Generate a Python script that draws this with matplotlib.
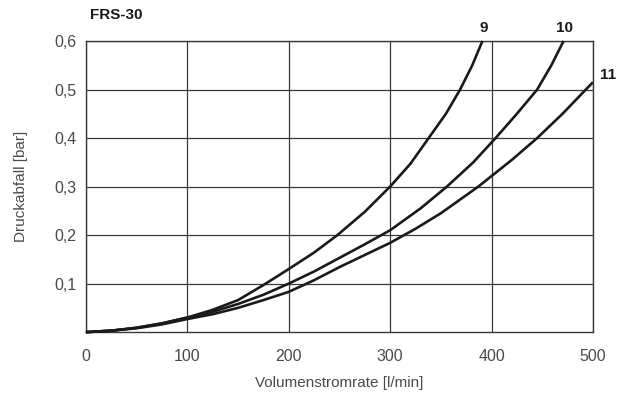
import matplotlib
matplotlib.use("Agg")
import matplotlib.pyplot as plt

plt.rcParams['font.family'] = ['Liberation Sans', 'DejaVu Sans']

# flow rate [l/min] vs pressure drop [bar] for the three filter sizes
flow_9 = [0, 25, 50, 75, 100, 125, 150, 175, 200, 225, 248, 275, 300, 320, 338, 355, 369, 381, 391]
drop_9 = [0, 0.003, 0.009, 0.018, 0.03, 0.046, 0.066, 0.097, 0.13, 0.164, 0.2, 0.248, 0.3, 0.347, 0.4, 0.45, 0.5, 0.55, 0.6]

flow_10 = [0, 25, 50, 75, 100, 125, 150, 175, 200, 225, 250, 275, 300, 330, 356, 382, 404, 425, 445, 459, 471]
drop_10 = [0, 0.003, 0.009, 0.018, 0.03, 0.042, 0.058, 0.077, 0.1, 0.125, 0.153, 0.181, 0.21, 0.255, 0.3, 0.35, 0.4, 0.45, 0.5, 0.55, 0.6]

flow_11 = [0, 25, 50, 75, 100, 125, 150, 175, 200, 225, 250, 275, 300, 325, 350, 387, 420, 445, 470, 493, 500]
drop_11 = [0, 0.003, 0.008, 0.016, 0.027, 0.037, 0.05, 0.066, 0.083, 0.107, 0.134, 0.159, 0.184, 0.213, 0.245, 0.3, 0.355, 0.4, 0.45, 0.5, 0.515]

curve_names = ['9', '10', '11']
x_ticks = [0, 100, 200, 300, 400, 500]
y_ticks = [0.1, 0.2, 0.3, 0.4, 0.5, 0.6]
y_tick_labels = ['0,1', '0,2', '0,3', '0,4', '0,5', '0,6']

txt = '#4a4a4a'
fig = plt.figure(figsize=(6.18, 3.94), dpi=100)
ax = fig.add_axes([0.139, 0.157, 0.8205, 0.739])

for fx, dy in [(flow_9, drop_9), (flow_10, drop_10), (flow_11, drop_11)]:
    ax.plot(fx, dy, color='#1a1a1a', lw=1.9, solid_capstyle='butt', solid_joinstyle='round',
            clip_on=False, zorder=3)

ax.set_xlim(0, 500)
ax.set_ylim(0, 0.6)
ax.set_xticks(x_ticks)
ax.set_yticks(y_ticks)
ax.set_yticklabels(y_tick_labels)
ax.tick_params(length=0, labelsize=11.5, colors=txt)
ax.tick_params(axis='x', pad=12)
ax.tick_params(axis='y', pad=7)
ax.grid(True, color='#3a3a3a', lw=0.9)
for s in ax.spines.values():
    s.set_color('#3a3a3a')
    s.set_linewidth(1.0)

ax.set_xlabel('Volumenstromrate [l/min]', fontsize=11, color=txt, labelpad=9)
ax.set_ylabel('Druckabfall [bar]', fontsize=11, color=txt, labelpad=19)

# curve labels at the ends of the lines
ends = [(flow_9[-1], drop_9[-1]), (flow_10[-1], drop_10[-1]), (flow_11[-1], drop_11[-1])]
offsets = [(1, 4), (1, 4), (11, 0)]
for name, (ex, ey), (ox, oy) in zip(curve_names, ends, offsets):
    ax.annotate(name, (ex, ey), xytext=(ox, oy), textcoords='offset points',
                fontsize=11, fontweight='bold', color='#1a1a1a', ha='center', va='bottom')

fig.text(0.145, 0.962, 'FRS-30', fontsize=11, fontweight='bold', color='#1a1a1a', ha='left', va='center')

fig.savefig('out.png', dpi=100)
